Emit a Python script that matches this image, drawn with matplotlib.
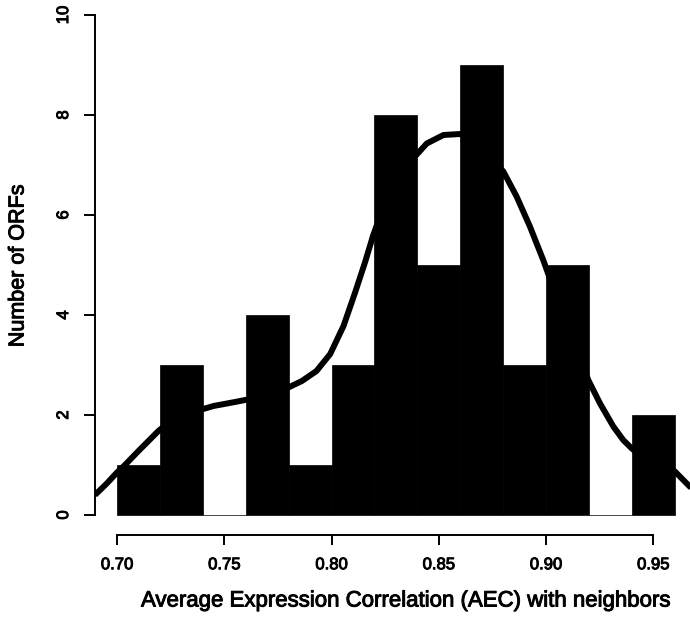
import matplotlib
matplotlib.use("Agg")
import matplotlib.pyplot as plt
import matplotlib.patheffects as pe

# Histogram data
bin_edges = [0.70, 0.72, 0.74, 0.76, 0.78, 0.80, 0.82, 0.84, 0.86, 0.88, 0.90, 0.92, 0.94, 0.96]
counts = [1, 3, 0, 4, 1, 3, 8, 5, 9, 3, 5, 0, 2]

# Density curve (scaled to counts)
curve_x = [0.6897, 0.6950, 0.7000, 0.7037, 0.7100, 0.7193, 0.7250, 0.7300, 0.7350, 0.7402,
           0.7450, 0.7500, 0.7550, 0.7597, 0.7650, 0.7700, 0.7750, 0.7799, 0.7862, 0.7930,
           0.7994, 0.8056, 0.8110, 0.8156, 0.8194, 0.8250, 0.8300, 0.8350, 0.8389, 0.8444,
           0.8522, 0.8599, 0.8650, 0.8700, 0.8750, 0.8801, 0.8863, 0.8925, 0.8987, 0.9050,
           0.9100, 0.9150, 0.9197, 0.9252, 0.9314, 0.9360, 0.9400, 0.9450, 0.9500, 0.9550,
           0.9601, 0.9670, 0.9750]
curve_y = [0.40, 0.62, 0.85, 1.00, 1.28, 1.68, 1.88, 1.98, 2.05, 2.12,
           2.18, 2.22, 2.26, 2.30, 2.34, 2.38, 2.45, 2.55, 2.68, 2.88,
           3.22, 3.78, 4.45, 5.05, 5.59, 6.25, 6.70, 7.00, 7.17, 7.43,
           7.60, 7.62, 7.52, 7.35, 7.12, 6.87, 6.37, 5.77, 5.10, 4.35,
           3.80, 3.22, 2.70, 2.23, 1.77, 1.50, 1.33, 1.17, 1.06, 0.97,
           0.87, 0.57, 0.30]

x_ticks = [0.70, 0.75, 0.80, 0.85, 0.90, 0.95]
x_tick_labels = ["0.70", "0.75", "0.80", "0.85", "0.90", "0.95"]
y_ticks = [0, 2, 4, 6, 8, 10]
y_tick_labels = ["0", "2", "4", "6", "8", "10"]

plt.rcParams['font.family'] = ['Liberation Sans', 'DejaVu Sans']

W, H = 690, 620
px_per_x = 2145.0
px_per_y = 50.0
x0_px = 117.0   # pixel of x = 0.70
y0_px = 515.0   # pixel of y = 0
xmin, xmax = 0.6896, 0.9704
ymin, ymax = -0.4, 10.4
left_px = x0_px - (0.70 - xmin) * px_per_x
right_px = x0_px + (xmax - 0.70) * px_per_x
bottom_px = y0_px - ymin * px_per_y
top_px = y0_px - ymax * px_per_y

fig = plt.figure(figsize=(6.9, 6.2), dpi=100)
ax = fig.add_axes([left_px / W, 1 - bottom_px / H,
                   (right_px - left_px) / W, (bottom_px - top_px) / H])

widths = [bin_edges[i + 1] - bin_edges[i] for i in range(len(counts))]
ax.bar(bin_edges[:-1], counts, width=widths, align='edge', color='black',
       edgecolor='black', linewidth=0.5)
ax.plot(curve_x, curve_y, color='black', linewidth=4.3, solid_capstyle='butt',
        solid_joinstyle='round')

ax.set_xlim(xmin, xmax)
ax.set_ylim(ymin, ymax)

for s in ['top', 'right']:
    ax.spines[s].set_visible(False)
ax.spines['left'].set_bounds(0, 10)
ax.spines['bottom'].set_bounds(0.70, 0.95)
for s in ['left', 'bottom']:
    ax.spines[s].set_linewidth(1.4)

stroke = [pe.withStroke(linewidth=0.7, foreground='black')]

ax.set_xticks(x_ticks)
ax.set_xticklabels(x_tick_labels)
ax.set_yticks(y_ticks)
ax.set_yticklabels(y_tick_labels, rotation=90, va='center')
ax.tick_params(axis='x', length=7, width=1.4, pad=9, labelsize=12)
ax.tick_params(axis='y', length=8, width=1.4, pad=9, labelsize=12)
for t in ax.get_xticklabels() + ax.get_yticklabels():
    t.set_path_effects(stroke)

ax.set_xlabel("Average Expression Correlation (AEC) with neighbors", fontsize=16,
              path_effects=stroke)
ax.xaxis.set_label_coords((406 - left_px) / (right_px - left_px),
                          -(601 - bottom_px) / (bottom_px - top_px))
ax.set_ylabel("Number of ORFs", fontsize=15.5, path_effects=stroke)
ax.yaxis.set_label_coords(-(left_px - 18) / (right_px - left_px),
                          (bottom_px - 266) / (bottom_px - top_px))
ax.xaxis.label.set_va('center')
ax.yaxis.label.set_va('center')

fig.savefig("out.png", dpi=100)
